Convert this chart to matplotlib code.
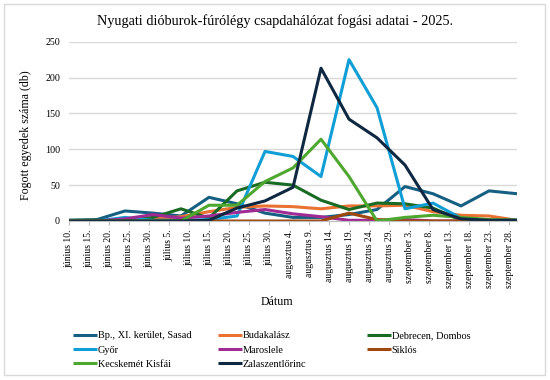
import matplotlib
matplotlib.use("Agg")
import matplotlib.pyplot as plt
import matplotlib.dates as mdates
from matplotlib.patches import Rectangle
import pandas as pd

plt.rcParams['font.family'] = ['Liberation Serif', 'DejaVu Serif']

# ---------------- data ----------------
dates = ['2025-06-10', '2025-06-17', '2025-06-24', '2025-07-01', '2025-07-08',
         '2025-07-15', '2025-07-22', '2025-07-29', '2025-08-05', '2025-08-12',
         '2025-08-19', '2025-08-26', '2025-09-02', '2025-09-09', '2025-09-16',
         '2025-09-23', '2025-09-30']

bp_sasad      = [1, 2, 14, 11, 7, 33, 24, 11, 5, 5, 9, 16, 48, 38, 21, 42, 38]
budakalasz    = [0, 0, 1, 3, 6, 13, 19, 21, 20, 17, 21, 21, 22, 13, 8, 7, 1]
debrecen      = [1, 1, 1, 5, 17, 4, 42, 54, 50, 29, 16, 25, 24, 18, 1, 1, 1]
gyor          = [0, 0, 5, 1, 1, 2, 7, 97, 90, 62, 225, 158, 17, 25, 4, 1, 1]
maroslele     = [0, 0, 3, 9, 4, 7, 12, 16, 10, 6, 1, 1, 2, 0, 0, 0, 0]
siklos        = [0, 0, 0, 0, 0, 0, 0, 0, 0, 0, 11, 2, 0, 0, 0, 0, 0]
kecskemet     = [0, 0, 0, 0, 0, 22, 22, 55, 74, 114, 62, 0, 5, 8, 5, 2, 1]
zalaszentl    = [0, 0, 0, 0, 0, 1, 18, 28, 47, 213, 142, 116, 78, 16, 3, 1, 1]

series_names = ['Bp., XI. kerület, Sasad', 'Budakalász', 'Debrecen, Dombos', 'Győr',
                'Maroslele', 'Siklós', 'Kecskemét Kisfái', 'Zalaszentlőrinc']
series_values = [bp_sasad, budakalasz, debrecen, gyor, maroslele, siklos, kecskemet, zalaszentl]
series_colors = ['#156082', '#E97132', '#196B24', '#0F9ED5',
                 '#A02B93', '#9E480E', '#4EA72E', '#0E2841']

tick_start = '2025-06-10'
tick_end = '2025-09-28'
tick_labels = ['június 10.', 'június 15.', 'június 20.', 'június 25.', 'június 30.',
               'július 5.', 'július 10.', 'július 15.', 'július 20.', 'július 25.',
               'július 30.', 'augusztus 4.', 'augusztus 9.', 'augusztus 14.',
               'augusztus 19.', 'augusztus 24.', 'augusztus 29.', 'szeptember 3.',
               'szeptember 8.', 'szeptember 13.', 'szeptember 18.', 'szeptember 23.',
               'szeptember 28.']
y_ticks = [0, 50, 100, 150, 200, 250]

title = 'Nyugati dióburok-fúrólégy csapdahálózat fogási adatai - 2025.'
xlabel = 'Dátum'
ylabel = 'Fogott egyedek száma (db)'

# ---------------- figure ----------------
W, H = 550, 380
fig = plt.figure(figsize=(W / 100, H / 100), dpi=100)
fig.patch.set_facecolor('white')

L, R, T, B = 69, 517, 41.7, 221
ax = fig.add_axes([L / W, 1 - B / H, (R - L) / W, (B - T) / H])

x = pd.to_datetime(dates)
lines = []
for name, vals, col in zip(series_names, series_values, series_colors):
    ln, = ax.plot(x, vals, color=col, lw=2.2, label=name,
                  solid_joinstyle='round', solid_capstyle='butt')
    lines.append(ln)

ax.set_xlim(pd.Timestamp(dates[0]), pd.Timestamp(dates[-1]))
ax.set_ylim(0, 250)
ax.set_yticks(y_ticks)
ax.grid(axis='y', color='#d9d9d9', lw=1)
ax.set_axisbelow(True)

ticks = pd.date_range(tick_start, tick_end, freq='5D')
ax.set_xticks(ticks)
ax.set_xticklabels(tick_labels, rotation=90, fontsize=6.9)
ax.tick_params(axis='x', length=3, width=0.8, color='#bfbfbf', pad=3)
ax.tick_params(axis='y', length=0, pad=6.5, labelsize=7.2)

for s in ['top', 'right', 'left']:
    ax.spines[s].set_visible(False)
ax.spines['bottom'].set_color('#bfbfbf')
ax.spines['bottom'].set_linewidth(0.8)

fig.text(275.5 / W, 1 - 25 / H, title, ha='center', va='baseline', fontsize=10.3)
fig.text(277 / W, 1 - 302 / H, xlabel, ha='center', va='center', fontsize=8.6)
fig.text(26 / W, 1 - 135 / H, ylabel, ha='center', va='center', rotation=90, fontsize=8.6)

# legend in three columns (row-major order as in the reference)
cols = [[0, 3, 6], [1, 4, 7], [2, 5]]
col_x = [73, 218, 367]
for idxs, cx in zip(cols, col_x):
    fig.legend(handles=[lines[i] for i in idxs], loc='upper left',
               bbox_to_anchor=(cx / W, 1 - 331 / H), frameon=False,
               borderpad=0, borderaxespad=0, handlelength=2.3,
               handletextpad=0.1, labelspacing=0.5, fontsize=7.4)

fig.patches.append(Rectangle((4 / W, 5 / H), 541 / W, 371 / H, transform=fig.transFigure,
                             fill=False, ec='#d9d9d9', lw=1))

fig.savefig('out.png', dpi=100, facecolor='white')
